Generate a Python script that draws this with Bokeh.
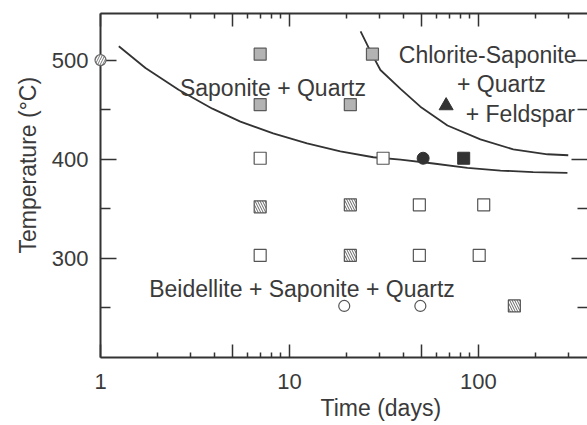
import math
from bokeh.plotting import figure
from bokeh.models import (LogAxis, LinearAxis, FixedTicker, Label, Range1d, Title)
from bokeh.embed import file_html
from bokeh.resources import INLINE

# ---------------- data ----------------
# phase boundary curves
lower_days = [1.25, 1.73, 2.59, 3.91, 5.5, 8.2, 12.4, 18.6, 27.8, 38.7, 57.8, 87.5, 131, 195, 296]
lower_temp = [514, 492, 470, 451, 438, 426, 416, 408, 402, 399.5, 395.7, 391.3, 388.6, 386.9, 386.2]
upper_days = [23.8, 26.8, 30.3, 38.7, 49.3, 68.6, 102.5, 153, 232, 299]
upper_temp = [529, 509, 490, 471, 453, 434, 420, 410, 405, 404]

# experiments
hatched_circle_days = [1]
hatched_circle_temp = [500]
gray_square_days = [7, 7, 21, 27.5]
gray_square_temp = [506, 455, 455, 506]
open_square_days = [7, 31.3, 48.7, 106.7, 7, 48.7, 101]
open_square_temp = [401, 401, 354, 354, 303, 303, 303]
hatched_square_days = [7, 21, 21, 155]
hatched_square_temp = [352, 354, 303, 252]
open_circle_days = [19.5, 49.3]
open_circle_temp = [252, 252]
filled_circle_days = [51]
filled_circle_temp = [401]
filled_square_days = [83.6]
filled_square_temp = [401]
feldspar_symbol_days = [67.5]
feldspar_symbol_temp = [454]

# ticks
x_major_ticks = [1, 5, 10, 50, 100]
x_minor_ticks = [2, 3, 4, 6, 7, 8, 9, 20, 30, 40, 60, 70, 80, 90, 200, 300]
x_tick_labels = {1: "1", 5: "", 10: "10", 50: "", 100: "100"}
y_major_ticks = [300, 400, 500]
y_minor_ticks = [250, 350, 450]

# field labels
field_texts = ["Saponite + Quartz", "Chlorite-Saponite", "+ Quartz", "+ Feldspar",
               "Beidellite + Saponite + Quartz"]
field_days = [8.18, 112, 132.4, 166.8, 11.65]
field_temp = [471.4, 505.5, 475.4, 445.2, 269.3]

x_title = "Time (days)"
y_title = "Temperature (°C)"

FONT = "Liberation Sans"
INK = "#3a3a3a"
LINE = "#333333"

p = figure(width=587, height=425, x_axis_type="log",
           x_range=Range1d(1, 378), y_range=Range1d(200, 547),
           output_backend="svg", toolbar_location=None,
           min_border_left=100, min_border_right=0, min_border_top=13,
           min_border_bottom=68, background_fill_color="white",
           border_fill_color="white")
p.outline_line_color = None
p.xgrid.visible = False
p.ygrid.visible = False


def common(ax, in_major, in_minor):
    ax.major_tick_in = in_major
    ax.major_tick_out = 0
    ax.minor_tick_in = in_minor
    ax.minor_tick_out = 0
    ax.axis_line_width = 2
    ax.axis_line_color = LINE
    ax.major_tick_line_color = LINE
    ax.minor_tick_line_color = LINE
    ax.major_tick_line_width = 1.5
    ax.minor_tick_line_width = 1.5


def hide_labels(ax, ticks):
    ax.major_label_overrides = {t: "" for t in ticks}
    ax.major_label_text_font_size = "1px"
    ax.major_label_standoff = 0


xa = p.xaxis[0]
xa.ticker = FixedTicker(ticks=x_major_ticks, minor_ticks=x_minor_ticks)
common(xa, 13, 5)
xa.major_label_overrides = x_tick_labels
xa.major_label_text_font = FONT
xa.major_label_text_font_size = "22px"
xa.major_label_text_color = INK
xa.major_label_standoff = 16

ya = p.yaxis[0]
ya.ticker = FixedTicker(ticks=y_major_ticks, minor_ticks=y_minor_ticks)
common(ya, 16, 10)
ya.major_label_text_font = FONT
ya.major_label_text_font_size = "22px"
ya.major_label_text_color = INK
ya.major_label_standoff = 12

top = LogAxis(ticker=FixedTicker(ticks=x_major_ticks, minor_ticks=x_minor_ticks))
common(top, 13, 5)
hide_labels(top, x_major_ticks)
p.add_layout(top, "above")

right = LinearAxis(ticker=FixedTicker(ticks=y_major_ticks, minor_ticks=y_minor_ticks))
common(right, 16, 10)
right.axis_line_color = None
hide_labels(right, y_major_ticks)
p.add_layout(right, "right")

# axis titles (placed off-centre as in the original figure)
p.add_layout(Title(text=x_title, align="left", offset=220, text_font=FONT,
                   text_font_size="23px", text_color=INK, text_font_style="normal",
                   standoff=3), "below")
p.add_layout(Title(text=y_title, align="left", offset=104, text_font=FONT,
                   text_font_size="23px", text_color=INK, text_font_style="normal",
                   standoff=16), "left")

# curves
p.line(lower_days, lower_temp, line_color=LINE, line_width=1.8)
p.line(upper_days, upper_temp, line_color=LINE, line_width=1.8)

# markers
p.scatter(gray_square_days, gray_square_temp, marker="square", size=12,
          fill_color="#b3b3b3", line_color="#5a5a5a", line_width=1.2)
p.scatter(open_square_days, open_square_temp, marker="square", size=12,
          fill_color="white", line_color="#555555", line_width=1.2)
p.scatter(hatched_square_days, hatched_square_temp, marker="square", size=12,
          fill_color="white", line_color="#555555", line_width=1.2,
          hatch_pattern="\\", hatch_color="#666666", hatch_scale=5, hatch_weight=1)
p.scatter(open_circle_days, open_circle_temp, marker="circle", size=11,
          fill_color="white", line_color="#555555", line_width=1.2)
p.scatter(filled_circle_days, filled_circle_temp, marker="circle", size=12,
          fill_color="#333333", line_color="#333333")
p.scatter(filled_square_days, filled_square_temp, marker="square", size=12,
          fill_color="#333333", line_color="#333333")
p.scatter(feldspar_symbol_days, feldspar_symbol_temp, marker="triangle", size=14,
          fill_color="#333333", line_color="#333333")
hc = p.scatter(hatched_circle_days, hatched_circle_temp, marker="circle", size=11,
               fill_color="white", line_color="#666666", line_width=1.2,
               hatch_pattern="/", hatch_color="#777777", hatch_scale=5, hatch_weight=1)
hc.level = "overlay"

# field labels
for t, xd, yd in zip(field_texts, field_days, field_temp):
    p.add_layout(Label(x=xd, y=yd, text=t, text_font=FONT, text_font_size="23px",
                       text_color=INK, text_align="center", text_baseline="alphabetic"))

open("out.html", "w").write(file_html(p, INLINE))
